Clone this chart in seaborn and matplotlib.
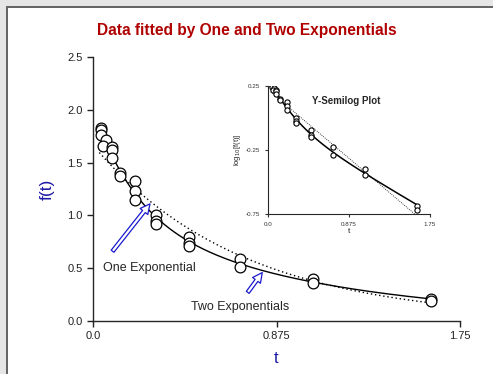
import numpy as np
import seaborn as sns
import matplotlib.pyplot as plt
from matplotlib.patches import Rectangle

t = [0.04, 0.04, 0.04, 0.06, 0.05, 0.09, 0.09, 0.09, 0.13, 0.13,
     0.20, 0.20, 0.20, 0.30, 0.30, 0.30, 0.46, 0.46, 0.46,
     0.70, 0.70, 1.05, 1.05, 1.61, 1.61]
f = [1.83, 1.81, 1.76, 1.71, 1.66, 1.65, 1.62, 1.54, 1.40, 1.37,
     1.33, 1.23, 1.15, 1.00, 0.95, 0.92, 0.80, 0.74, 0.71,
     0.59, 0.51, 0.40, 0.36, 0.205, 0.19]

x_ticks = [0.0, 0.875, 1.75]
x_tick_labels = ["0.0", "0.875", "1.75"]
y_ticks = [0.0, 0.5, 1.0, 1.5, 2.0, 2.5]
inset_y_ticks = [-0.75, -0.25, 0.25]

t_arr = np.array(t)
f_arr = np.array(f)

# one exponential: straight line fit on the semilog scale
slope, icpt = np.polyfit(t_arr, np.log(f_arr), 1)


# two exponentials by variable projection (grid on rates, LS on amplitudes)
def fit_two(tt, yy):
    best = None
    for a in np.linspace(2, 20, 181):
        for b in np.linspace(0.3, 2.5, 111):
            M = np.column_stack([np.exp(-a * tt), np.exp(-b * tt)])
            c, *_ = np.linalg.lstsq(M, yy, rcond=None)
            r = np.sum((yy - M @ c) ** 2)
            if best is None or r < best[0]:
                best = (r, c, a, b)
    return best[1], best[2], best[3]


c2, a2, b2 = fit_two(t_arr, f_arr)
tc = np.linspace(0.03, 1.62, 200)
one_exp = np.exp(icpt + slope * tc)
two_exp = c2[0] * np.exp(-a2 * tc) + c2[1] * np.exp(-b2 * tc)

sns.set_style("ticks")
plt.rcParams['font.family'] = ['Liberation Sans', 'DejaVu Sans']

fig = plt.figure(figsize=(4.93, 3.74), dpi=100)
fig.patch.set_facecolor("white")
# window-like frame on top and left
fig.patches.append(Rectangle((0, 0), 1, 1, transform=fig.transFigure,
                             facecolor="#e6e6e6", edgecolor="none", zorder=-3))
fig.patches.append(Rectangle((6 / 493, 0), 1, 1 - 6 / 374, transform=fig.transFigure,
                             facecolor="#666666", edgecolor="none", zorder=-2))
fig.patches.append(Rectangle((8 / 493, 0), 1, 1 - 8 / 374, transform=fig.transFigure,
                             facecolor="white", edgecolor="none", zorder=-1))

ax = fig.add_axes([93 / 493, 1 - 321 / 374, 367 / 493, 264 / 374])
ax.set_facecolor("none")
sns.lineplot(x=tc, y=one_exp, ax=ax, color="black", lw=1, linestyle=(0, (1, 2)))
sns.lineplot(x=tc, y=two_exp, ax=ax, color="black", lw=1)
sns.scatterplot(x=t, y=f, ax=ax, s=60, facecolor="white", edgecolor="black",
                linewidth=0.9, zorder=3)
ax.set_xlim(0, 1.75)
ax.set_ylim(0, 2.5)
ax.set_xticks(x_ticks)
ax.set_xticklabels(x_tick_labels)
ax.set_yticks(y_ticks)
ax.tick_params(labelsize=8, length=4, width=1, colors="#222222")
sns.despine(ax=ax)
for s in ["left", "bottom"]:
    ax.spines[s].set_linewidth(1)
ax.set_xlabel("t", color="#1a1aa6", fontsize=12, labelpad=7)
ax.set_ylabel("f(t)", color="#1a1aa6", fontsize=12.5, labelpad=9)
fig.text(0.5, 1 - 30 / 374, "Data fitted by One and Two Exponentials",
         ha="center", va="center", color="#b00000", fontsize=11.2, fontweight="bold")

arrow = dict(arrowstyle="simple,head_width=0.7,head_length=0.7,tail_width=0.25",
             facecolor="white", edgecolor="#1a1acc", lw=0.9)
ax.annotate("", xy=(0.28, 1.13), xytext=(0.085, 0.64), arrowprops=arrow)
ax.text(0.05, 0.5, "One Exponential", fontsize=9, ha="left", va="center")
ax.annotate("", xy=(0.815, 0.48), xytext=(0.73, 0.25), arrowprops=arrow)
ax.text(0.465, 0.13, "Two Exponentials", fontsize=9, ha="left", va="center")

# inset: semilog
ins = fig.add_axes([268 / 493, 1 - 214 / 374, 162 / 493, 128 / 374])
ins.set_facecolor("none")
sns.lineplot(x=tc, y=np.log10(one_exp), ax=ins, color="black", lw=0.6,
             linestyle=(0, (1, 1.5)))
sns.lineplot(x=tc, y=np.log10(two_exp), ax=ins, color="black", lw=1.1)
sns.scatterplot(x=t, y=np.log10(f_arr), ax=ins, s=14, facecolor="white",
                edgecolor="black", linewidth=0.8, zorder=3)
ins.set_xlim(0, 1.75)
ins.set_ylim(-0.75, 0.25)
ins.set_xticks(x_ticks)
ins.set_xticklabels(x_tick_labels)
ins.set_yticks(inset_y_ticks)
ins.set_yticklabels(["-0.75", "-0.25", "0.25"])
ins.tick_params(labelsize=4.5, length=2, width=0.8, colors="#333333")
sns.despine(ax=ins)
ins.set_xlabel("t", fontsize=6, labelpad=1)
ins.set_ylabel(r"log$_{10}$[f(t)]", fontsize=5.5, labelpad=2)
ins.text(0.485, 0.88, "Y-Semilog Plot", transform=ins.transAxes, fontsize=7,
         fontweight="bold", ha="center", va="center")

fig.savefig("out.png", dpi=100)
